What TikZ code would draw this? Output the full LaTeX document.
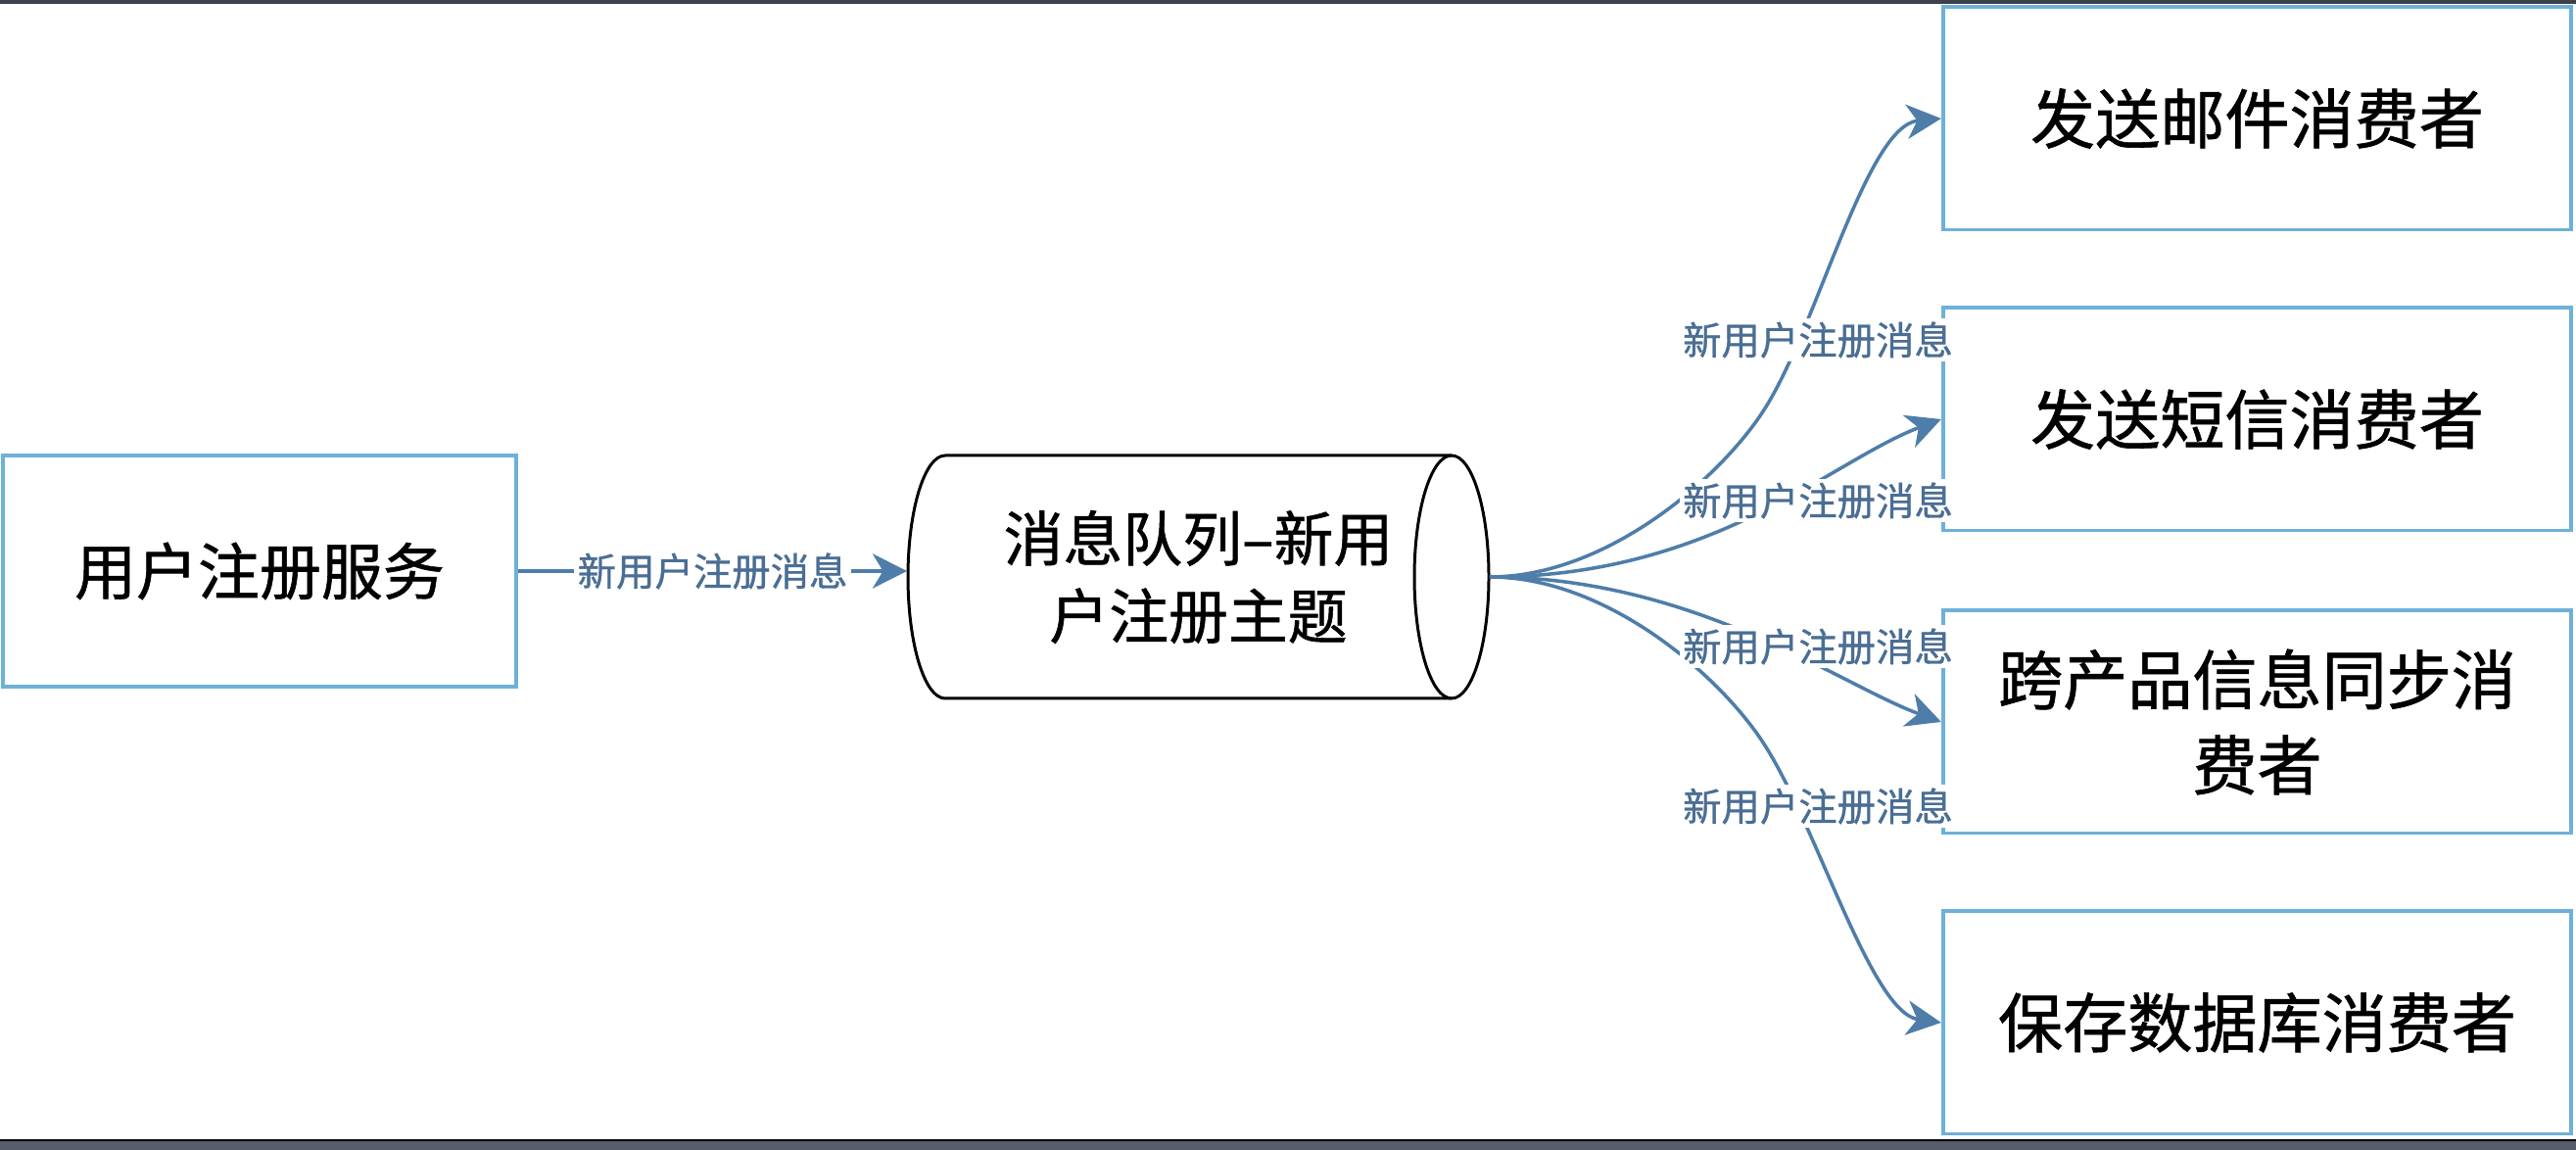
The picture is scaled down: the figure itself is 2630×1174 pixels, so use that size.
\documentclass[tikz,border=0pt]{standalone}
\usepackage{fontspec}
\setmainfont{Noto Sans CJK SC}[BoldFont={Noto Sans CJK SC}, BoldFeatures={FakeBold=0.9}]
\usetikzlibrary{arrows.meta}
\definecolor{boxblue}{HTML}{6DB1D9}
\definecolor{arrowblue}{HTML}{4E7DAA}
\definecolor{labelblue}{HTML}{4A6E94}
\definecolor{topbar}{HTML}{3D414B}
\definecolor{botbar}{HTML}{585D6B}
\begin{document}
\begin{tikzpicture}[x=0.01cm,y=-0.01cm,
  svcbox/.style={draw=boxblue, line width=1.1pt, inner sep=0pt, align=center},
  consumer/.style={svcbox, minimum width=6.41cm, minimum height=2.27cm,
    font=\fontsize{18.8}{24.8}\selectfont\bfseries},
  cyl/.style={draw=black, line width=0.85pt},
  flow/.style={draw=arrowblue, line width=1pt,
    -{Stealth[length=10pt, width=10pt, inset=3pt]}},
  lbl/.style={fill=white, inner sep=1pt, text=labelblue,
    font=\fontsize{11.2}{13}\selectfont\bfseries}]
\useasboundingbox (0,0) rectangle (2630,1174);
\fill[white] (0,0) rectangle (2630,1174);
\fill[topbar] (0,0) rectangle (2630,4);
\fill[botbar] (0,1164) rectangle (2630,1174);
\draw[black, line width=0.7pt] (0,1164) -- (2630,1164);

% source service
\node[svcbox, minimum width=5.24cm, minimum height=2.36cm,
  font=\fontsize{17.9}{22}\selectfont\bfseries] (reg) at (265,583) {用户注册服务};

% message queue cylinder
\draw[cyl, fill=white] (965,465) -- (1482,465)
  arc[start angle=-90, end angle=90, x radius=38, y radius=124]
  -- (965,713)
  arc[start angle=90, end angle=270, x radius=38, y radius=124] -- cycle;
\draw[cyl] (1482,713) arc[start angle=90, end angle=270, x radius=38, y radius=124];
\node[minimum width=5.93cm, minimum height=2.48cm, inner sep=0pt, align=center,
  font=\fontsize{17.3}{22.5}\selectfont\bfseries] (mq) at (1223.5,589)
  {消息队列–新用\\户注册主题};

% consumers
\node[consumer] (c1) at (2304.5,121) {发送邮件消费者};
\node[consumer] (c2) at (2304.5,428) {发送短信消费者};
\node[consumer] (c3) at (2304.5,737) {跨产品信息同步消\\费者};
\node[consumer] (c4) at (2304.5,1044) {保存数据库消费者};

% connectors
\draw[flow] (reg.east) -- (reg.east -| mq.west)
  node[lbl, midway] {新用户注册消息};
\draw[flow] (mq.east) .. controls (1640,589) and (1755,489) .. (1800,420)
  .. controls (1855,336) and (1905,128) .. (c1.west);
\draw[flow] (mq.east) .. controls (1750,589) and (1870,470) .. (c2.west);
\draw[flow] (mq.east) .. controls (1730,589) and (1880,700) .. (c3.west);
\draw[flow] (mq.east) .. controls (1640,589) and (1755,689) .. (1800,758)
  .. controls (1855,842) and (1910,1034) .. (c4.west);

\node[lbl] (l1) at (1856,347) {新用户注册消息};
\node[lbl] (l2) at (1856,511) {新用户注册消息};
\node[lbl] (l3) at (1856,660) {新用户注册消息};
\node[lbl] (l4) at (1856,823) {新用户注册消息};
\end{tikzpicture}
\end{document}
